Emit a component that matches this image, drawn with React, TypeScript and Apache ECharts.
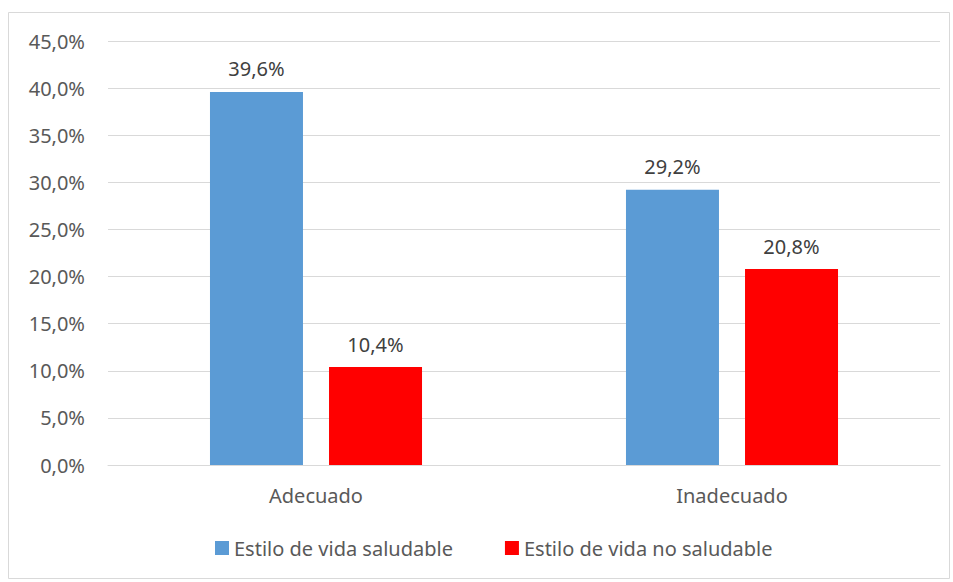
import React, { useEffect, useRef } from "react";
import * as echarts from "echarts";

const categories = ["Adecuado", "Inadecuado"];
const seriesNames = ["Estilo de vida saludable", "Estilo de vida no saludable"];
const saludable = [39.6, 29.2];
const noSaludable = [10.4, 20.8];
const colors = ["#5B9BD5", "#FF0000"];

const fmt = (v: number) => v.toFixed(1).replace(".", ",") + "%";
const FONT = "Noto Sans";
const TXT = "#595959";
const FS = 20;

export default function App() {
  const ref = useRef<HTMLDivElement>(null);
  useEffect(() => {
    if (!ref.current) return;
    const chart = echarts.init(ref.current, undefined, { renderer: "svg" });
    const label = {
      show: true,
      position: "top",
      distance: 13,
      fontFamily: FONT,
      fontSize: FS,
      color: "#404040",
      formatter: (p: any) => fmt(p.value),
    };
    chart.setOption({
      animation: false,
      backgroundColor: "#ffffff",
      textStyle: { fontFamily: FONT },
      graphic: [
        {
          type: "rect",
          shape: { x: 8.5, y: 12.5, width: 941, height: 566 },
          style: { fill: "none", stroke: "#d9d9d9", lineWidth: 1 },
          silent: true,
        },
      ],
      grid: { left: 108, right: 13, top: 41, bottom: 117 },
      legend: {
        top: 533,
        left: 210,
        itemWidth: 14,
        itemHeight: 14,
        itemGap: 52,
        icon: "rect",
        textStyle: { fontFamily: FONT, fontSize: FS, color: TXT },
        data: seriesNames,
      },
      xAxis: {
        type: "category",
        data: categories,
        axisLine: { lineStyle: { color: "#d9d9d9", width: 1 } },
        axisTick: { show: false },
        axisLabel: { fontFamily: FONT, fontSize: FS, color: TXT, margin: 20 },
      },
      yAxis: {
        type: "value",
        min: 0,
        max: 45,
        interval: 5,
        axisLine: { show: false },
        axisTick: { show: false },
        splitLine: { lineStyle: { color: "#d9d9d9", width: 1 } },
        axisLabel: {
          fontFamily: FONT,
          fontSize: FS,
          color: TXT,
          margin: 23,
          formatter: (v: number) => fmt(v),
        },
      },
      series: [
        {
          name: seriesNames[0],
          type: "bar",
          data: saludable,
          barWidth: 93,
          barGap: "28%",
          itemStyle: { color: colors[0] },
          label,
        },
        {
          name: seriesNames[1],
          type: "bar",
          data: noSaludable,
          barWidth: 93,
          barGap: "28%",
          itemStyle: { color: colors[1] },
          label,
        },
      ],
    });
    return () => chart.dispose();
  }, []);
  return (
    <div
      ref={ref}
      style={{ position: "fixed", left: 0, top: 0, width: 953, height: 582 }}
    />
  );
}
